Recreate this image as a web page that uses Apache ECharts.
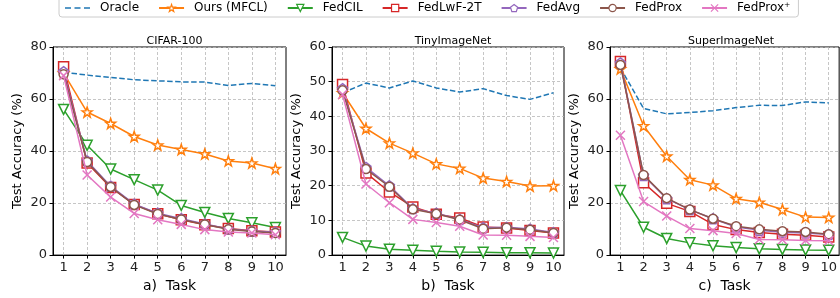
<!DOCTYPE html>
<html><head><meta charset="utf-8">
<script src="https://cdn.jsdelivr.net/npm/echarts@6/dist/echarts.min.js"></script>
<style>html,body{margin:0;padding:0;background:#fff}#c{width:840px;height:298px}</style>
</head><body><div id="c"></div>
<script>
const tasks = [1,2,3,4,5,6,7,8,9,10];
const seriesNames = ['Oracle','Ours (MFCL)','FedCIL','FedLwF-2T','FedAvg','FedProx','FedProx\u207A'];
const panelTitles = ['CIFAR-100','TinyImageNet','SuperImageNet'];
const panelXNames = ['a)  Task','b)  Task','c)  Task'];
const yMax = [80, 60, 80];
const yStep = [20, 10, 20];

// CIFAR-100
const cifarOracle = [70.3,69.2,68.3,67.4,67.0,66.6,66.5,65.2,66.0,65.1];
const cifarOurs   = [70.0,55.0,50.6,45.6,42.3,40.6,38.9,36.2,35.4,33.2];
const cifarFedCIL = [56.0,42.2,33.1,29.0,25.0,19.1,16.4,14.1,12.4,10.6];
const cifarLwF    = [72.4,35.4,26.0,19.5,15.9,13.6,11.7,10.2,9.4,8.9];
const cifarAvg    = [70.5,36.2,26.5,19.6,16.1,14.0,12.0,10.0,9.3,8.8];
const cifarProx   = [69.5,35.8,26.2,19.3,15.8,13.7,11.8,9.9,9.1,8.5];
const cifarProxP  = [69.0,30.8,22.3,16.0,13.6,11.8,9.8,8.9,8.5,7.8];
// TinyImageNet
const tinyOracle = [46.8,49.6,48.2,50.2,48.2,47.0,48.0,46.0,44.9,46.8];
const tinyOurs   = [46.8,36.5,32.3,29.4,26.3,25.0,22.2,21.2,19.9,20.0];
const tinyFedCIL = [5.1,2.6,1.7,1.4,1.1,0.9,0.8,0.7,0.7,0.6];
const tinyLwF    = [49.2,23.7,18.2,13.9,11.8,10.7,8.1,7.8,7.1,6.4];
const tinyAvg    = [48.0,25.3,20.0,13.4,12.1,10.3,7.9,8.0,7.5,6.5];
const tinyProx   = [47.5,24.8,19.7,13.2,11.9,10.2,7.6,7.9,7.3,6.4];
const tinyProxP  = [46.3,20.5,15.1,10.3,9.4,8.3,5.8,5.7,5.4,5.1];
// SuperImageNet
const superOracle = [72.0,56.4,54.3,54.8,55.5,56.7,57.6,57.5,58.9,58.5];
const superOurs   = [71.6,49.7,38.0,29.0,26.9,21.7,20.3,17.5,14.6,14.5];
const superFedCIL = [24.8,10.7,6.4,4.7,3.6,2.9,2.4,2.2,2.0,1.9];
const superLwF    = [74.4,27.8,19.9,16.8,11.8,9.8,8.7,8.0,7.6,7.0];
const superAvg    = [73.9,30.6,21.7,17.5,14.0,10.8,9.6,8.8,8.5,7.9];
const superProx   = [73.1,30.8,21.9,17.5,14.0,11.1,9.9,9.2,8.9,8.0];
const superProxP  = [46.1,20.6,15.0,10.2,9.4,8.3,6.0,5.9,5.6,5.5];

const panels = [
  [cifarOracle,cifarOurs,cifarFedCIL,cifarLwF,cifarAvg,cifarProx,cifarProxP],
  [tinyOracle,tinyOurs,tinyFedCIL,tinyLwF,tinyAvg,tinyProx,tinyProxP],
  [superOracle,superOurs,superFedCIL,superLwF,superAvg,superProx,superProxP]
];

const colors = ['#1f77b4','#ff7f0e','#2ca02c','#d62728','#9467bd','#8c564b','#e377c2'];
const STAR = 'path://M0,-10 L2.35,-3.24 L9.51,-3.09 L3.8,1.24 L5.88,8.09 L0,4 L-5.88,8.09 L-3.8,1.24 L-9.51,-3.09 L-2.35,-3.24 Z';
const PENT = 'path://M0,-10 L9.51,-3.09 L5.88,8.09 L-5.88,8.09 L-9.51,-3.09 Z';
const XMARK = 'path://M0,0 L10,10 M10,0 L0,10';
const DASHICON = 'path://M0,0 L0.01,0 L0.01,0.01 Z M0,3.7 L6,3.7 L6,5.3 L0,5.3 Z M9.5,3.7 L15.5,3.7 L15.5,5.3 L9.5,5.3 Z M19,3.7 L25,3.7 L25,5.3 L19,5.3 Z M24.99,8.99 L25,8.99 L25,9 Z';
const symbols = ['none', STAR, 'triangle', 'rect', PENT, 'circle', XMARK];
const symSizes = [0, 10, 10, 10, 10, 9, 9];
const symRot = [0, 0, 180, 0, 0, 0, 0];

const grids = [
  {left: 53, width: 233, top: 47, height: 209},
  {left: 332, width: 232, top: 47, height: 209},
  {left: 610, width: 232, top: 47, height: 209}
];
const FONT = 'DejaVu Sans';

const option = {
  animation: false,
  backgroundColor: '#fff',
  textStyle: {fontFamily: FONT},
  title: panelTitles.map((t, i) => ({
    text: t, left: grids[i].left + grids[i].width / 2, top: 31, textAlign: 'center',
    textStyle: {fontFamily: FONT, fontSize: 11, fontWeight: 'normal', color: '#000'}
  })),
  legend: {
    data: seriesNames.map((n, k) => k === 0 ? {name: n, icon: DASHICON, itemStyle: {color: colors[0], borderWidth: 0}} : {name: n}),
    left: 59, top: -5, padding: [7, 8, 3, 6],
    itemWidth: 25, itemHeight: 9, itemGap: 19,
    borderColor: '#cccccc', borderWidth: 1, borderRadius: 3,
    itemStyle: {borderWidth: 1.2},
    textStyle: {fontFamily: FONT, fontSize: 12, color: '#000', padding: [0, 0, 0, 5]}
  },
  grid: grids.map(g => Object.assign({show: true, borderColor: '#000', borderWidth: 1, backgroundColor: 'transparent'}, g)),
  xAxis: grids.map((g, i) => ({
    type: 'value', gridIndex: i, min: 0.55, max: 10.45,
    name: panelXNames[i], nameLocation: 'middle', nameGap: 21,
    nameTextStyle: {fontFamily: FONT, fontSize: 14, color: '#000'},
    axisLine: {show: true, onZero: false, lineStyle: {color: '#000', width: 1}},
    axisTick: {show: true, length: 3.5, customValues: tasks, lineStyle: {color: '#000'}},
    axisLabel: {show: true, margin: 6, customValues: tasks, fontFamily: FONT, fontSize: 13, color: '#222'},
    splitLine: {show: true, lineStyle: {color: '#b8b8b8', width: 0.8, type: [3, 2]}}
  })),
  yAxis: grids.map((g, i) => ({
    type: 'value', gridIndex: i, min: 0, max: yMax[i], interval: yStep[i],
    name: 'Test Accuracy (%)', nameLocation: 'middle', nameGap: 29,
    nameTextStyle: {fontFamily: FONT, fontSize: 13, color: '#000'},
    axisLine: {show: true, lineStyle: {color: '#000', width: 1}},
    axisTick: {show: true, length: 3.5, lineStyle: {color: '#000'}},
    axisLabel: {margin: 6, fontFamily: FONT, fontSize: 13, color: '#222'},
    splitLine: {show: true, lineStyle: {color: '#b8b8b8', width: 0.8, type: [3, 2]}}
  })),
  series: []
};

panels.forEach((vals, p) => {
  vals.forEach((arr, k) => {
    option.series.push({
      type: 'line', name: seriesNames[k], xAxisIndex: p, yAxisIndex: p,
      data: tasks.map((t, j) => [t, arr[j]]),
      symbol: symbols[k], symbolSize: symSizes[k], symbolRotate: symRot[k],
      showSymbol: k !== 0,
      z: 2 + k,
      lineStyle: {color: colors[k], width: 1.5, type: k === 0 ? [5.5, 2.5] : 'solid'},
      itemStyle: {color: '#fff', borderColor: colors[k], borderWidth: 1.5},
      emphasis: {disabled: true}
    });
  });
});

const chart = echarts.init(document.getElementById('c'), null, {renderer: 'canvas'});
chart.setOption(option);
</script></body></html>
